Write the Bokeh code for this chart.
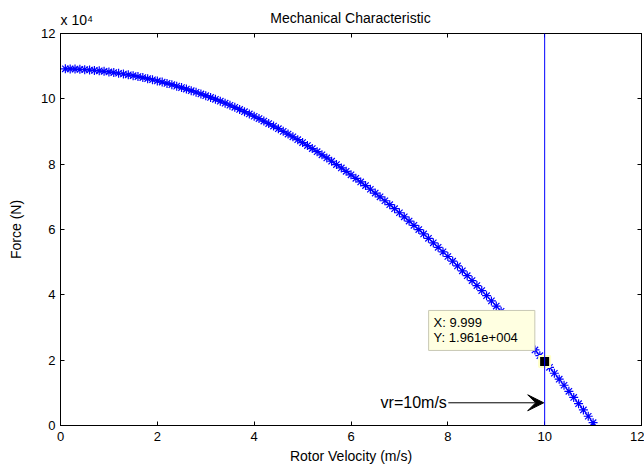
from bokeh.plotting import figure
from bokeh.models import Range1d, LinearAxis, FixedTicker, Span, Arrow, VeeHead, Label
from bokeh.embed import file_html
from bokeh.resources import INLINE

# ---- data ----
velocity = [round(0.1 * i, 1) for i in range(1, 111)]
force_k = [109.18, 109.15, 109.10, 109.03, 108.94, 108.83, 108.71, 108.57, 108.41, 108.23,
           108.04, 107.83, 107.60, 107.35, 107.08, 106.80, 106.50, 106.18, 105.84, 105.49,
           105.12, 104.73, 104.32, 103.89, 103.45, 102.99, 102.51, 102.01, 101.50, 100.97,
           100.42, 99.85, 99.27, 98.66, 98.04, 97.40, 96.75, 96.07, 95.38, 94.67,
           93.95, 93.20, 92.44, 91.66, 90.86, 90.04, 89.21, 88.36, 87.49, 86.60,
           85.70, 84.77, 83.83, 82.87, 81.90, 80.90, 79.89, 78.86, 77.82, 76.75,
           75.67, 74.57, 73.45, 72.32, 71.16, 69.99, 68.80, 67.60, 66.37, 65.13,
           63.87, 62.59, 61.29, 59.98, 58.65, 57.30, 55.93, 54.55, 53.15, 51.73,
           50.29, 48.84, 47.36, 45.87, 44.36, 42.84, 41.29, 39.73, 38.15, 36.55,
           34.94, 33.30, 31.65, 29.98, 28.30, 26.59, 24.87, 23.13, 21.38, 19.61,
           17.81, 16.00, 14.17, 12.32, 10.46, 8.58, 6.68, 4.76, 2.83, 0.87]
force = [f * 1000 for f in force_k]

tip_x = [9.999]
tip_y = [19610]
vr_line = 10.0
x_ticks = [0, 2, 4, 6, 8, 10, 12]
y_ticks = [0, 20000, 40000, 60000, 80000, 100000, 120000]
y_tick_labels = ["0", "2", "4", "6", "8", "10", "12"]
title_text = "Mechanical Characteristic"
exponent_text = "x 10\u2074"

FONT = "Liberation Sans"

p = figure(width=644, height=468, x_range=Range1d(0, 12), y_range=Range1d(0, 120000),
           output_backend="svg", toolbar_location=None,
           min_border_left=60, min_border_right=3, min_border_top=33, min_border_bottom=43,
           x_axis_label="Rotor Velocity (m/s)", y_axis_label="Force (N)")
p.grid.visible = False
p.outline_line_color = "black"
p.outline_line_width = 1
p.title.visible = False

def style_axis(ax):
    ax.axis_line_color = "black"
    ax.major_tick_in = 4
    ax.major_tick_out = 0
    ax.minor_tick_line_color = None
    ax.major_tick_line_color = "black"
    ax.major_label_text_font = FONT
    ax.major_label_text_font_size = "13px"
    ax.major_label_text_color = "black"
    ax.axis_label_text_font = FONT
    ax.axis_label_text_font_size = "14px"
    ax.axis_label_text_font_style = "normal"
    ax.axis_label_text_color = "black"

xa = p.xaxis[0]
style_axis(xa)
xa.ticker = FixedTicker(ticks=x_ticks)
xa.major_label_standoff = 6
xa.axis_label_standoff = 4

ya = p.yaxis[0]
style_axis(ya)
ya.ticker = FixedTicker(ticks=y_ticks)
ya.major_label_overrides = {t: l for t, l in zip(y_ticks, y_tick_labels)}
ya.major_label_standoff = 5
ya.axis_label_standoff = 14

# mirrored tick marks on top and right (no labels)
top = LinearAxis(ticker=FixedTicker(ticks=x_ticks))
style_axis(top)
top.major_label_overrides = {t: "" for t in x_ticks}
top.major_label_text_color = None
top.major_label_text_font_size = "1px"
top.major_label_standoff = 0
p.add_layout(top, "above")
right = LinearAxis(ticker=FixedTicker(ticks=y_ticks))
style_axis(right)
right.major_label_overrides = {t: "" for t in y_ticks}
right.major_label_text_color = None
right.major_label_text_font_size = "1px"
right.major_label_standoff = 0
p.add_layout(right, "right")

# curve
p.line(velocity, force, line_color="#0000ff", line_width=1)
p.scatter(velocity, force, marker="asterisk", size=9, line_color="#0000ff", line_width=1.2)

# vertical line at vr
p.add_layout(Span(location=vr_line, dimension="height", line_color="#0000ff", line_width=1))

# arrow + text
p.add_layout(Arrow(end=VeeHead(size=16, fill_color="black", line_color="black"),
                   x_start=8.01, y_start=6950, x_end=9.98, y_end=6950,
                   line_color="black", line_width=1))
p.add_layout(Label(x=7.98, y=6950, text="vr=10m/s", text_align="right", text_baseline="middle",
                   text_font=FONT, text_font_size="16px", text_color="black"))

# data tip
p.scatter(tip_x, tip_y, marker="square", size=11, fill_color="black",
          line_color="#ffffc8", line_width=2)
p.add_layout(Label(x=tip_x[0], y=tip_y[0], x_offset=-116, y_offset=11,
                   text="X: 9.999\nY: 1.961e+004", text_align="left", text_baseline="bottom",
                   text_font=FONT, text_font_size="13px", text_color="black",
                   text_line_height=1.0,
                   background_fill_color="#ffffe1", border_line_color="#c8c8b4",
                   padding=dict(left=5, right=17, top=5, bottom=5)))

# title and exponent label in the top panel (canvas positioned, not clipped)
p.add_layout(Label(x=350, y=17, x_units="canvas", y_units="canvas", text=title_text,
                   text_align="center", text_baseline="middle",
                   text_font=FONT, text_font_size="14px", text_color="black"), "above")
p.add_layout(Label(x=60, y=19, x_units="canvas", y_units="canvas", text=exponent_text,
                   text_align="left", text_baseline="middle",
                   text_font=FONT, text_font_size="14px", text_color="black"), "above")

open("out.html", "w").write(file_html(p, INLINE))
